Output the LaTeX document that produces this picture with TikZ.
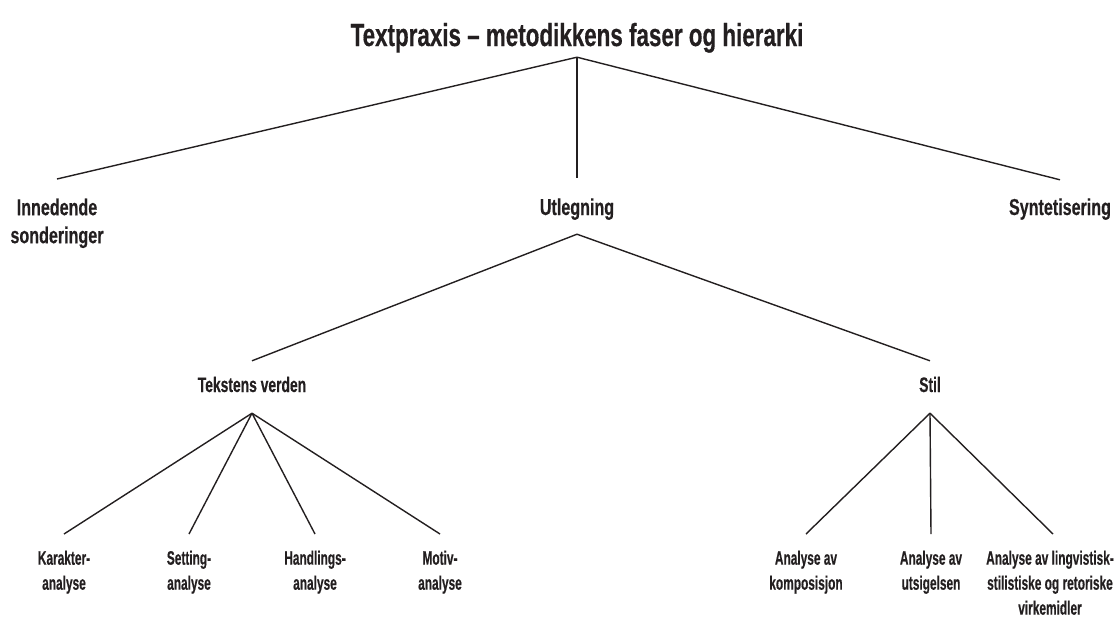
\documentclass[tikz,border=0pt]{standalone}
\usepackage{fontspec}
\newfontfamily\cf{Liberation Sans}[FakeStretch=0.70, FakeBold=0.4]
\newfontfamily\cfm{Liberation Sans}[FakeStretch=0.66, FakeBold=0.4]
\newfontfamily\cfs{Liberation Sans}[FakeStretch=0.61, FakeBold=0.4]
\definecolor{ink}{HTML}{231F20}
\begin{document}
\begin{tikzpicture}[x=1pt,y=-1pt,
  every node/.style={inner sep=0pt, text=ink},
  conn/.style={draw=ink, line width=1.4pt},
  ttl/.style={font={\cf\bfseries\fontsize{32}{38}\selectfont}},
  lvone/.style={font={\cf\bfseries\fontsize{23}{28}\selectfont}, align=center},
  lvtwo/.style={font={\cfm\bfseries\fontsize{21}{26}\selectfont}},
  lvthree/.style={font={\cfs\bfseries\fontsize{19.5}{25}\selectfont}, align=center, anchor=north}
]
\useasboundingbox (0,0) rectangle (1120,619);

\node[ttl, anchor=base, text depth=11pt] (title) at (577,46) {Textpraxis – metodikkens faser og hierarki};

\node[lvone, anchor=north] (inn) at (57,179) {\rule{0pt}{36pt}Innedende\\sonderinger};
\node[lvone, anchor=base, text height=37pt, text depth=19pt] (utl) at (577,215) {Utlegning};
\node[lvone, anchor=base, text height=35pt] (syn) at (1060,215) {Syntetisering};

\node[lvtwo, anchor=base, text height=31pt, text depth=21pt] (tek) at (252,392) {Tekstens verden};
\node[lvtwo, anchor=base, text height=31pt, text depth=21pt] (stil) at (930,392) {Stil};

\node[lvthree] (kar) at (64,534) {\rule{0pt}{30.5pt}Karakter-\\analyse};
\node[lvthree] (set) at (189,534) {\rule{0pt}{30.5pt}Setting-\\analyse};
\node[lvthree] (han) at (315,534) {\rule{0pt}{30.5pt}Handlings-\\analyse};
\node[lvthree] (mot) at (440,534) {\rule{0pt}{30.5pt}Motiv-\\analyse};

\node[lvthree] (komp) at (806,534) {\rule{0pt}{30.5pt}Analyse av\\komposisjon};
\node[lvthree] (utsi) at (931,534) {\rule{0pt}{30.5pt}Analyse av\\utsigelsen};
\node[lvthree] (ling) at (1050,534) {\rule{0pt}{30.5pt}Analyse av lingvistisk-\\stilistiske og retoriske\\virkemidler};

\draw[conn] (title.south) -- (inn.north);
\draw[conn] (title.south) -- (utl.north);
\draw[conn] (title.south) -- (syn.north);

\draw[conn] (utl.south) -- (tek.north);
\draw[conn] (utl.south) -- (stil.north);

\draw[conn] (tek.south) -- (kar.north);
\draw[conn] (tek.south) -- (set.north);
\draw[conn] (tek.south) -- (han.north);
\draw[conn] (tek.south) -- (mot.north);

\draw[conn] (stil.south) -- (komp.north);
\draw[conn] (stil.south) -- (utsi.north);
\draw[conn] (stil.south) -- ([xshift=3pt]ling.north);
\end{tikzpicture}
\end{document}
